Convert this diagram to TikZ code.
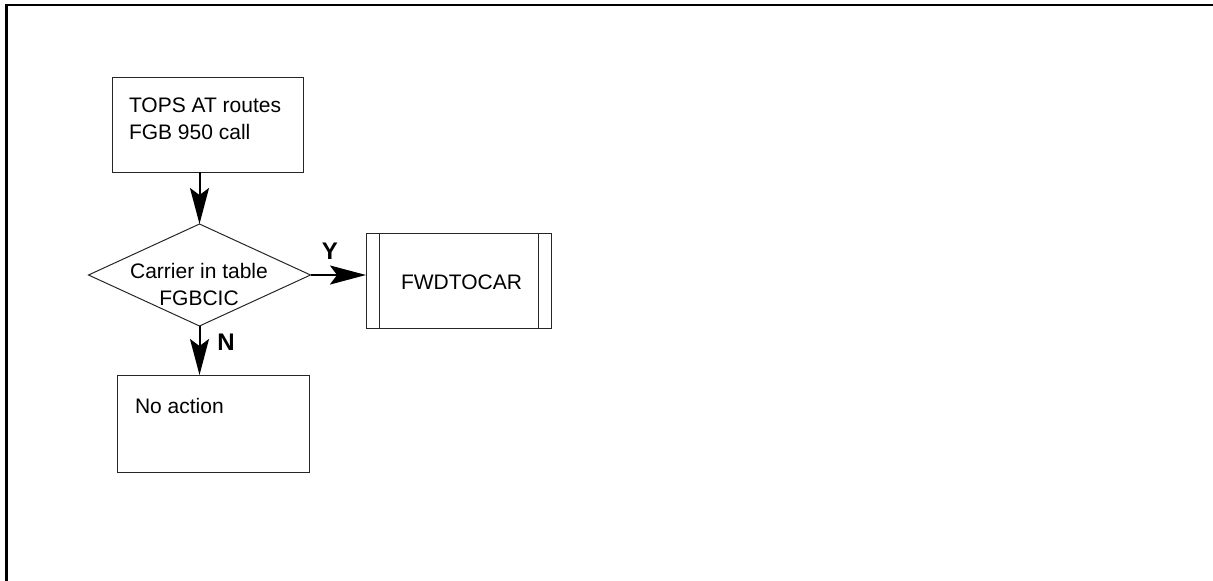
\documentclass[tikz,border=0pt]{standalone}
\usepackage{fontspec}
\setmainfont{Liberation Sans}
\usetikzlibrary{shapes.geometric,arrows.meta}
\begin{document}
\begin{tikzpicture}[x=1pt,y=-1pt,
  every node/.style={inner sep=0pt, outer sep=0pt},
  txt/.style={font=\fontsize{21}{27}\selectfont},
  lbl/.style={font=\fontsize{24}{27}\selectfont\bfseries},
  boxline/.style={draw=black!85, line width=1pt},
  flow/.style={draw=black, line width=2pt, -{Stealth[length=36pt,width=19pt,inset=7pt]}},
]
\useasboundingbox (0,0) rectangle (1213,581);
% frame
\draw[line width=2.5pt] (6.5,581) -- (6.5,5) -- (1213,5);
% boxes
\node[boxline, rectangle, minimum width=191pt, minimum height=95pt] (start) at (207.5,124.5) {};
\node[txt, anchor=north west, align=left] (starttxt) at (129,98) {TOPS AT routes\\FGB 950 call};
\node[boxline, diamond, minimum width=222pt, minimum height=102pt, aspect=2.17] (dec) at (199.5,275) {};
\node[txt, anchor=north, align=center] (dectxt) at (199,263) {Carrier in table\\FGBCIC};
\node[boxline, rectangle, minimum width=185pt, minimum height=95pt] (fwd) at (458.5,280.5) {};
\draw[boxline] ([xshift=13pt]fwd.north west) -- ([xshift=13pt]fwd.south west);
\draw[boxline] ([xshift=-13pt]fwd.north east) -- ([xshift=-13pt]fwd.south east);
\node[txt, anchor=base] (fwdtxt) at (461.5,289) {FWDTOCAR};
\node[boxline, rectangle, minimum width=192pt, minimum height=97pt] (noact) at (213,423.5) {};
\node[txt, anchor=base west] (noacttxt) at (135,413) {No action};
% connectors
\draw[flow] (dec.north |- start.south) -- (dec.north);
\draw[flow] (dec.east) -- (fwd.west |- dec.east);
\draw[flow] (dec.south) -- (dec.south |- noact.north);
% labels
\node[lbl] (ylbl) at (330,251) {Y};
\node[lbl] (nlbl) at (226,342) {N};
\end{tikzpicture}
\end{document}
